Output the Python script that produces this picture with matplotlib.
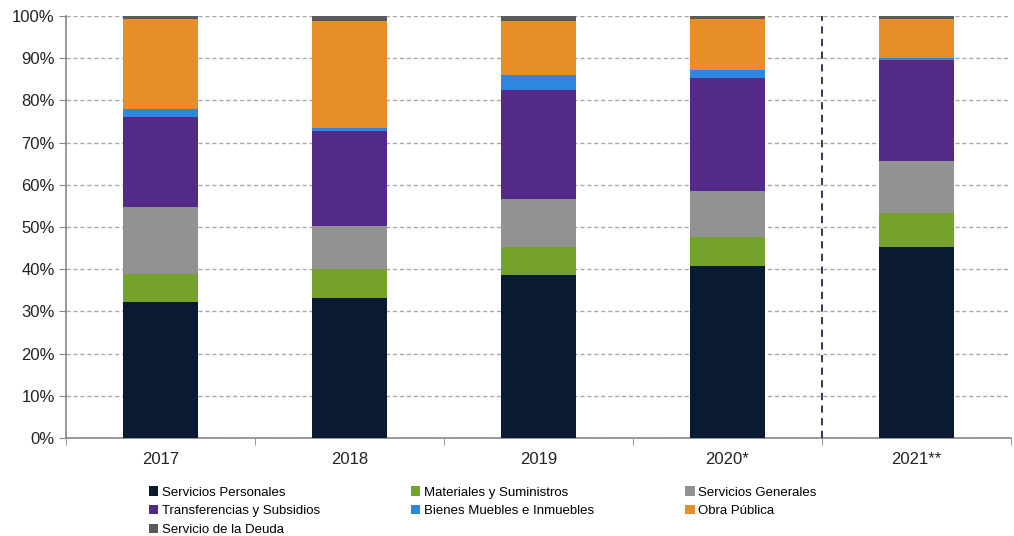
import matplotlib
matplotlib.use("Agg")
import matplotlib.pyplot as plt
from matplotlib.ticker import FuncFormatter
import matplotlib.font_manager as fm

names = {f.name for f in fm.fontManager.ttflist}
fam = ["Liberation Sans Narrow", "DejaVu Sans"] if "Liberation Sans Narrow" in names else ["Liberation Sans", "DejaVu Sans"]
plt.rcParams['font.family'] = fam

years = ["2017", "2018", "2019", "2020*", "2021**"]
series_names = ["Servicios Personales", "Materiales y Suministros", "Servicios Generales",
                "Transferencias y Subsidios", "Bienes Muebles e Inmuebles", "Obra Pública",
                "Servicio de la Deuda"]
servicios_personales = [32.2, 33.2, 38.6, 40.7, 45.3]
materiales = [6.7, 6.8, 6.7, 6.9, 7.9]
servicios_generales = [15.8, 10.3, 11.4, 11.0, 12.5]
transferencias = [21.4, 22.4, 25.8, 26.8, 23.9]
bienes = [1.9, 0.8, 3.6, 1.7, 0.4]
obra_publica = [21.3, 25.3, 12.8, 12.3, 9.3]
deuda = [0.7, 1.2, 1.1, 0.6, 0.7]
colors = ["#0b1a33", "#75a22a", "#929292", "#532a87", "#2e86de", "#e88e28", "#5a5a5a"]

data = [servicios_personales, materiales, servicios_generales, transferencias, bienes, obra_publica, deuda]

fig = plt.figure(figsize=(10.14, 5.36), dpi=100)
ax = fig.add_axes([0.065, 0.183, 0.932, 0.787])

x = list(range(len(years)))
bottom = [0.0] * len(years)
handles = []
for name, vals, c in zip(series_names, data, colors):
    h = ax.bar(x, vals, width=0.4, bottom=bottom, color=c, label=name, zorder=3,
               edgecolor="none")
    handles.append(h)
    bottom = [b + v for b, v in zip(bottom, vals)]

ax.set_xlim(-0.5, 4.5)
ax.set_ylim(0, 100)
ax.set_yticks(range(0, 101, 10))
ax.yaxis.set_major_formatter(FuncFormatter(lambda v, p: f"{int(v)}%"))
ax.set_xticks(x)
ax.set_xticklabels(years)
ax.set_xticks([i + 0.5 for i in range(-1, 5)], minor=True)
ax.tick_params(axis='x', which='major', length=0, labelsize=12, pad=10, colors="#222222")
ax.tick_params(axis='x', which='minor', length=5, color="#888888", direction='out')
ax.tick_params(axis='y', length=5, color="#888888", labelsize=12, pad=3, labelcolor="#222222")

ax.grid(axis='y', color="#aaaaaa", linestyle=(0, (3, 2)), linewidth=1, zorder=0)
for s in ["top", "right"]:
    ax.spines[s].set_visible(False)
for s in ["left", "bottom"]:
    ax.spines[s].set_color("#888888")
    ax.spines[s].set_linewidth(1.2)

ax.axvline(3.5, color="#1f2a44", linestyle=(0, (4, 3)), linewidth=1.3, zorder=4)

order = [0, 3, 6, 1, 4, 2, 5]
fig.legend([handles[i] for i in order], [series_names[i] for i in order],
           ncol=3, loc="upper left", bbox_to_anchor=(0.14, 0.105), frameon=False,
           fontsize=9.5, handlelength=0.7, handleheight=0.7, handletextpad=0.3,
           columnspacing=6.9, labelspacing=0.5, borderpad=0)

fig.savefig("out.png", dpi=100)
